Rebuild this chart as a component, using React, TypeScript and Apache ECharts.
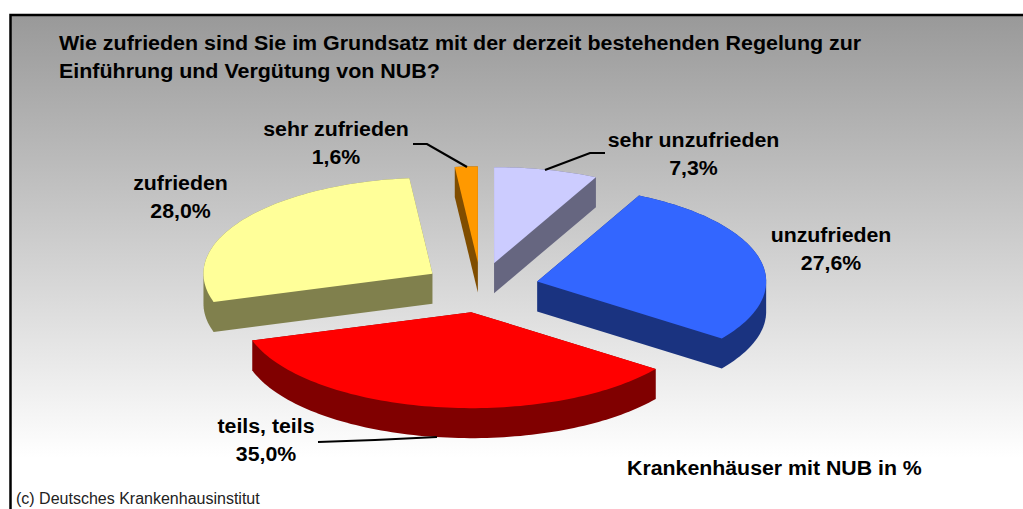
import React, { useEffect, useRef } from "react";
import * as echarts from "echarts";

const categories = ["sehr unzufrieden", "unzufrieden", "teils, teils", "zufrieden", "sehr zufrieden"];
const values = [7.3, 27.6, 35.0, 28.0, 1.6];
const topColors = ["#CCCCFF", "#3366FF", "#FF0000", "#FFFF99", "#FF9900"];
const sideColors = ["#666680", "#1A3380", "#800000", "#80804D", "#804D00"];
const titleLines = "Wie zufrieden sind Sie im Grundsatz mit der derzeit bestehenden Regelung zur\nEinführung und Vergütung von NUB?";
const unitNote = "Krankenhäuser mit NUB in %";
const sourceNote = "(c) Deutsches Krankenhausinstitut";

const W = 1023;
const H = 509;
const PIE = { cx: 480.8, cy: 287.5, rx: 229, ry: 96, depth: 30, explodeX: 58, explodeY: 25 };
const labelCentres: [number, number][] = [
  [693.5, 154],
  [831, 249],
  [266, 440],
  [180.5, 197],
  [336, 143],
];
const leaderLines: [number, number][][] = [
  [[605, 153], [590, 153], [545, 170]],
  [],
  [[318, 442], [375, 440], [437, 437]],
  [],
  [[413, 144], [427, 144], [467, 167]],
];

type P = [number, number];

function convexHull(points: P[]): P[] {
  const pts = points.slice().sort((a, b) => a[0] - b[0] || a[1] - b[1]);
  const cross = (o: P, a: P, b: P) => (a[0] - o[0]) * (b[1] - o[1]) - (a[1] - o[1]) * (b[0] - o[0]);
  const lower: P[] = [];
  for (const p of pts) {
    while (lower.length >= 2 && cross(lower[lower.length - 2], lower[lower.length - 1], p) <= 0) lower.pop();
    lower.push(p);
  }
  const upper: P[] = [];
  for (let i = pts.length - 1; i >= 0; i--) {
    const p = pts[i];
    while (upper.length >= 2 && cross(upper[upper.length - 2], upper[upper.length - 1], p) <= 0) upper.pop();
    upper.push(p);
  }
  lower.pop();
  upper.pop();
  return lower.concat(upper);
}

const total = values.reduce((s, v) => s + v, 0);

function renderSlice(params: any, api: any) {
  const i = params.dataIndex;
  const value = api.value(0);
  const before = values.slice(0, i).reduce((s, v) => s + v, 0);
  const a0 = (before / total) * Math.PI * 2;
  const a1 = a0 + (value / total) * Math.PI * 2;
  const mid = (a0 + a1) / 2;
  const ax = PIE.cx + PIE.explodeX * Math.sin(mid);
  const ay = PIE.cy - PIE.explodeY * Math.cos(mid);
  const top: P[] = [[ax, ay]];
  const n = Math.max(4, Math.ceil((a1 - a0) * 40));
  for (let k = 0; k <= n; k++) {
    const a = a0 + ((a1 - a0) * k) / n;
    top.push([ax + PIE.rx * Math.sin(a), ay - PIE.ry * Math.cos(a)]);
  }
  const lowered = top.map(([x, y]) => [x, y + PIE.depth] as P);
  return {
    type: "group",
    children: [
      {
        type: "polygon",
        shape: { points: convexHull(top.concat(lowered)) },
        style: { fill: sideColors[i] },
      },
      {
        type: "polygon",
        shape: { points: top },
        style: { fill: topColors[i] },
      },
    ],
  };
}

const FONT = '"Liberation Sans", Arial, sans-serif';

function App() {
  const ref = useRef<HTMLDivElement>(null);
  useEffect(() => {
    const chart = echarts.init(ref.current!, undefined, { renderer: "svg" });
    const labels = categories.map((c, i) => ({
      type: "text",
      z: 20,
      x: labelCentres[i][0],
      y: labelCentres[i][1],
      scaleX: 1.066,
      style: {
        text: `${c}\n${values[i].toFixed(1).replace(".", ",")}%`,
        fill: "#000",
        font: `bold 20px ${FONT}`,
        lineHeight: 28,
        align: "center",
        verticalAlign: "middle",
      },
    }));
    const leaders = leaderLines
      .filter((l) => l.length > 0)
      .map((points) => ({
        type: "polyline",
        z: 15,
        shape: { points },
        style: { stroke: "#000", lineWidth: 2.2, fill: "none" },
      }));
    chart.setOption({
      animation: false,
      backgroundColor: "#fff",
      graphic: {
        elements: [
          {
            type: "rect",
            z: -10,
            shape: { x: 10.5, y: 15, width: W, height: H },
            style: {
              fill: new echarts.graphic.LinearGradient(0, 0, 0, 1, [
                { offset: 0, color: "#999999" },
                { offset: 0.87, color: "#FFFFFF" },
                { offset: 1, color: "#FFFFFF" },
              ]),
              stroke: "#000",
              lineWidth: 2.5,
            },
          },
          {
            type: "text",
            z: 20,
            x: 59,
            y: 29,
            scaleX: 1.072,
            style: { text: titleLines, fill: "#000", font: `bold 20px ${FONT}`, lineHeight: 28 },
          },
          ...leaders,
          ...labels,
          {
            type: "text",
            z: 20,
            x: 627,
            y: 468,
            scaleX: 1.066,
            style: { text: unitNote, fill: "#000", font: `bold 20px ${FONT}`, verticalAlign: "middle" },
          },
          {
            type: "text",
            z: 20,
            x: 16,
            y: 498,
            style: { text: sourceNote, fill: "#222", font: `16px ${FONT}`, verticalAlign: "middle" },
          },
        ],
      },
      series: [
        {
          type: "custom",
          coordinateSystem: "none",
          silent: true,
          clip: false,
          z: 5,
          renderItem: renderSlice,
          data: values.map((v) => [v]),
        },
      ],
    });
    return () => chart.dispose();
  }, []);
  return <div ref={ref} style={{ position: "absolute", left: 0, top: 0, width: W, height: H }} />;
}

export default App;
